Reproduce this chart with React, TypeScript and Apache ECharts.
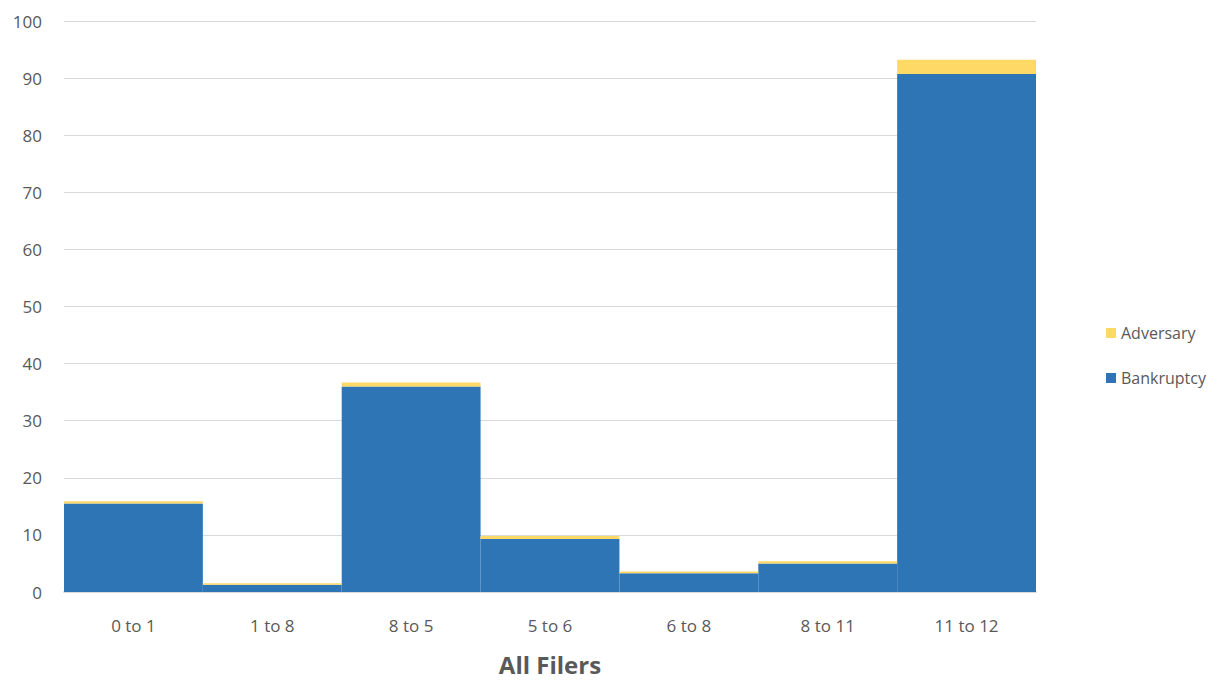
import React, { useEffect, useRef } from "react";
import * as echarts from "echarts";

const categories = ["0 to 1", "1 to 8", "8 to 5", "5 to 6", "6 to 8", "8 to 11", "11 to 12"];
const bankruptcy = [15.5, 1.25, 36.0, 9.3, 3.3, 5.0, 90.7];
const adversary = [0.4, 0.3, 0.7, 0.5, 0.3, 0.4, 2.5];
const yTicks = { min: 0, max: 100, interval: 10 };

export default function App() {
  const ref = useRef<HTMLDivElement>(null);
  useEffect(() => {
    if (!ref.current) return;
    const chart = echarts.init(ref.current, null, { renderer: "svg" });
    const font = "'Open Sans', 'Noto Sans', sans-serif";
    chart.setOption({
      animation: false,
      textStyle: { fontFamily: font },
      grid: { left: 64, right: 183, top: 21, bottom: 73, containLabel: false },
      legend: {
        orient: "vertical",
        left: 1101,
        top: 320,
        itemWidth: 10,
        itemHeight: 10,
        itemGap: 29,
        icon: "rect",
        data: ["Adversary", "Bankruptcy"],
        textStyle: { fontSize: 16, color: "#595959", fontFamily: font },
      },
      xAxis: {
        type: "category",
        data: categories,
        axisTick: { show: false },
        axisLine: { lineStyle: { color: "#d9d9d9", width: 2 } },
        axisLabel: { fontSize: 17, color: "#595959", margin: 25, fontFamily: font },
        name: "All Filers",
        nameLocation: "middle",
        nameGap: 60,
        nameTextStyle: { fontSize: 24, fontWeight: "bold", color: "#595959", fontFamily: font },
      },
      yAxis: {
        type: "value",
        min: yTicks.min,
        max: yTicks.max,
        interval: yTicks.interval,
        axisLine: { show: false },
        axisTick: { show: false },
        splitLine: { lineStyle: { color: "#d9d9d9", width: 1 } },
        axisLabel: { fontSize: 17, color: "#595959", margin: 22, fontFamily: font },
      },
      series: [
        {
          name: "Bankruptcy",
          type: "bar",
          stack: "total",
          data: bankruptcy,
          barCategoryGap: "0%",
          itemStyle: { color: "#2e75b6" },
        },
        {
          name: "Adversary",
          type: "bar",
          stack: "total",
          data: adversary,
          barCategoryGap: "0%",
          itemStyle: { color: "#ffd966" },
        },
      ],
    });
    return () => chart.dispose();
  }, []);
  return (
    <div
      ref={ref}
      style={{ position: "fixed", left: 0, top: 0, width: 1219, height: 681, background: "#fff" }}
    />
  );
}
